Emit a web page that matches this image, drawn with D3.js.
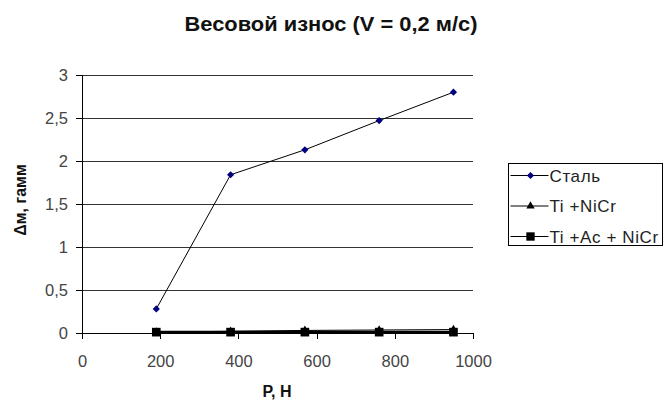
<!DOCTYPE html>
<html><head><meta charset="utf-8">
<script src="https://cdn.jsdelivr.net/npm/d3@7"></script>
<style>body{margin:0;background:#fff}svg{display:block;font-family:"Liberation Sans",Arial,sans-serif}</style>
</head><body>
<script>
const loads = [190, 380, 570, 760, 950];
const steel = [0.28, 1.84, 2.13, 2.47, 2.80];
const tiNiCr = [0.01, 0.02, 0.03, 0.035, 0.04];
const tiAcNiCr = [0.01, 0.01, 0.01, 0.01, 0.01];
const seriesNames = ["Сталь", "Ti +NiCr", "Ti +Ac + NiCr"];
const xTicks = [0, 200, 400, 600, 800, 1000];
const yTicks = [0, 0.5, 1, 1.5, 2, 2.5, 3];

const W = 664, H = 403;
const m = {left: 82, right: 191, top: 75, bottom: 70};
const svg = d3.select("body").append("svg").attr("width", W).attr("height", H);
const x = d3.scaleLinear().domain([0, 1000]).range([m.left, W - m.right]);
const y = d3.scaleLinear().domain([0, 3]).range([H - m.bottom, m.top]);
const fmt = d => String(d).replace(".", ",");

// grid
svg.append("g").selectAll("line").data(yTicks.filter(d => d > 0)).join("line")
  .attr("x1", x(0)).attr("x2", x(1000)).attr("y1", d => y(d)).attr("y2", d => y(d))
  .attr("stroke", "#333").attr("stroke-width", 1).attr("shape-rendering", "crispEdges");

// axes
const yAxis = svg.append("g").attr("transform", `translate(${x(0)},0)`)
  .call(d3.axisLeft(y).tickValues(yTicks).tickFormat(fmt).tickSize(6).tickPadding(8));
const xAxis = svg.append("g").attr("transform", `translate(0,${y(0)})`)
  .call(d3.axisBottom(x).tickValues(xTicks).tickFormat(d => String(d)).tickSize(6).tickPadding(16));
[yAxis, xAxis].forEach(a => {
  a.select(".domain").attr("stroke", "#000").attr("shape-rendering", "crispEdges");
  a.selectAll(".tick line").attr("stroke", "#000").attr("shape-rendering", "crispEdges");
  a.selectAll("text").attr("font-size", 16.5).attr("fill", "#444").attr("font-family", "Liberation Sans, Arial, sans-serif");
});

const line = d3.line().x(d => x(d[0])).y(d => y(d[1]));
const data = [steel, tiNiCr, tiAcNiCr].map(s => loads.map((p, i) => [p, s[i]]));

svg.append("path").datum(data[1]).attr("d", line).attr("fill", "none").attr("stroke", "#000").attr("stroke-width", 1);
svg.append("path").datum(data[2]).attr("d", line).attr("fill", "none").attr("stroke", "#000").attr("stroke-width", 3);
svg.append("path").datum(data[0]).attr("d", line).attr("fill", "none").attr("stroke", "#000").attr("stroke-width", 1);

const diamond = d3.symbol().type(d3.symbolSquare).size(26);
const triangle = d3.symbol().type(d3.symbolTriangle).size(30);
const square = d3.symbol().type(d3.symbolSquare).size(75);

svg.append("g").selectAll("path").data(data[1]).join("path")
  .attr("d", triangle).attr("transform", d => `translate(${x(d[0])},${y(d[1])})`).attr("fill", "#000");
svg.append("g").selectAll("path").data(data[2]).join("path")
  .attr("d", square).attr("transform", d => `translate(${x(d[0])},${y(d[1])})`).attr("fill", "#000");
svg.append("g").selectAll("path").data(data[0]).join("path")
  .attr("d", diamond).attr("transform", d => `translate(${x(d[0])},${y(d[1])}) rotate(45)`).attr("fill", "#000080");

// title
svg.append("text").attr("x", 331).attr("y", 31).attr("text-anchor", "middle")
  .attr("font-size", 21).attr("font-weight", "bold").attr("fill", "#111")
  .attr("textLength", 293).attr("lengthAdjust", "spacingAndGlyphs")
  .text("Весовой износ (V = 0,2 м/с)");
// axis titles
svg.append("text").attr("x", 277).attr("y", 397).attr("text-anchor", "middle")
  .attr("font-size", 16).attr("font-weight", "bold").attr("fill", "#111").text("P, H");
svg.append("text").attr("transform", `translate(26,200) rotate(-90)`).attr("text-anchor", "middle")
  .attr("font-size", 16).attr("font-weight", "bold").attr("fill", "#111").text("Δм, гамм");

// legend
const lg = svg.append("g").attr("transform", "translate(508.5,163.5)");
lg.append("rect").attr("width", 154).attr("height", 82).attr("fill", "#fff").attr("stroke", "#000");
const syms = [d3.symbol().type(d3.symbolSquare).size(26), d3.symbol().type(d3.symbolTriangle).size(30), d3.symbol().type(d3.symbolSquare).size(70)];
const fills = ["#000080", "#000", "#000"];
seriesNames.forEach((n, i) => {
  const yy = 12 + i * 30.5;
  lg.append("line").attr("x1", 2).attr("x2", 40).attr("y1", yy).attr("y2", yy).attr("stroke", "#000").attr("stroke-width", 1);
  lg.append("path").attr("d", syms[i]()).attr("transform", `translate(22,${yy})` + (i === 0 ? " rotate(45)" : "")).attr("fill", fills[i]);
  lg.append("text").attr("x", 41).attr("y", yy + 6).attr("font-size", 17).attr("letter-spacing", 0.6).attr("fill", "#222").text(n);
});
</script>
</body></html>
